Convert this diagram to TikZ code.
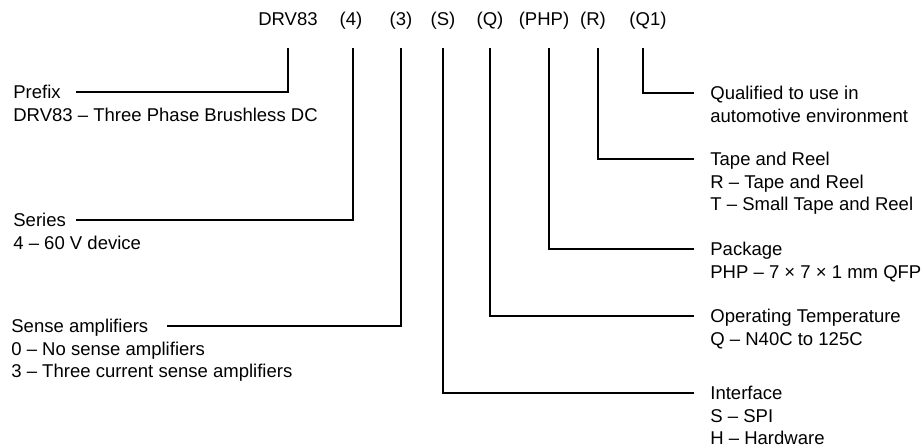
\documentclass[tikz,border=0pt]{standalone}
\usepackage{fontspec}
\setmainfont{Liberation Sans}
\usetikzlibrary{positioning}
\tikzset{
  code/.style={font=\fontsize{10}{12}\selectfont, anchor=base, inner sep=2pt, text depth=2.2pt},
  desc/.style={font=\fontsize{10}{12.15}\selectfont, align=left, anchor=north west, inner sep=0pt},
  lead/.style={line width=1.1pt, shorten <=8.2pt},
}
\begin{document}
\begin{tikzpicture}[x=0.54pt, y=-0.54pt]
  \useasboundingbox (0,0) rectangle (923,447);
  % part number fields
  \node[code] (cPre) at (288,25) {DRV83};
  \node[code] (cSer) at (351,25) {(4)};
  \node[code] (cSen) at (401,25) {(3)};
  \node[code] (cIf)  at (443,25) {(S)};
  \node[code] (cTmp) at (490,25) {(Q)};
  \node[code] (cPkg) at (544,25) {(PHP)};
  \node[code] (cTr)  at (593,25) {(R)};
  \node[code] (cQu)  at (648,25) {(Q1)};
  % descriptions, left
  \node[desc] (dPre) at (13,85) {Prefix\\DRV83 -- Three Phase Brushless DC};
  \node[desc] (dSer) at (13,213) {Series\\4 -- 60 V device};
  \node[desc] (dSen) at (11,319) {Sense amplifiers\\0 -- No sense amplifiers\\3 -- Three current sense amplifiers};
  % descriptions, right
  \node[desc] (dQu)  at (710,86) {Qualified to use in\\automotive environment};
  \node[desc] (dTr)  at (710,152) {Tape and Reel\\R -- Tape and Reel\\T -- Small Tape and Reel};
  \node[desc] (dPkg) at (710,242) {Package\\PHP -- 7 × 7 × 1 mm QFP};
  \node[desc] (dTmp) at (710,309) {Operating Temperature\\Q -- N40C to 125C};
  \node[desc] (dIf)  at (710,386) {Interface\\S -- SPI\\H -- Hardware};
  % leader ends
  \coordinate (ePre) at (76,92);
  \coordinate (eSer) at (76,220);
  \coordinate (eSen) at (167,326);
  \coordinate (eQu)  at (694,93);
  \coordinate (eTr)  at (694,159);
  \coordinate (ePkg) at (694,249);
  \coordinate (eTmp) at (694,316);
  \coordinate (eIf)  at (694,393);
  \draw[lead] (cPre.south) |- (ePre);
  \draw[lead] ([xshift=1.1pt]cSer.south) |- (eSer);
  \draw[lead] (cSen.south) |- (eSen);
  \draw[lead] (cIf.south) |- (eIf);
  \draw[lead] (cTmp.south) |- (eTmp);
  \draw[lead] ([xshift=2.7pt]cPkg.south) |- (ePkg);
  \draw[lead] ([xshift=2.7pt]cTr.south) |- (eTr);
  \draw[lead] ([xshift=-2.7pt]cQu.south) |- (eQu);
\end{tikzpicture}
\end{document}
